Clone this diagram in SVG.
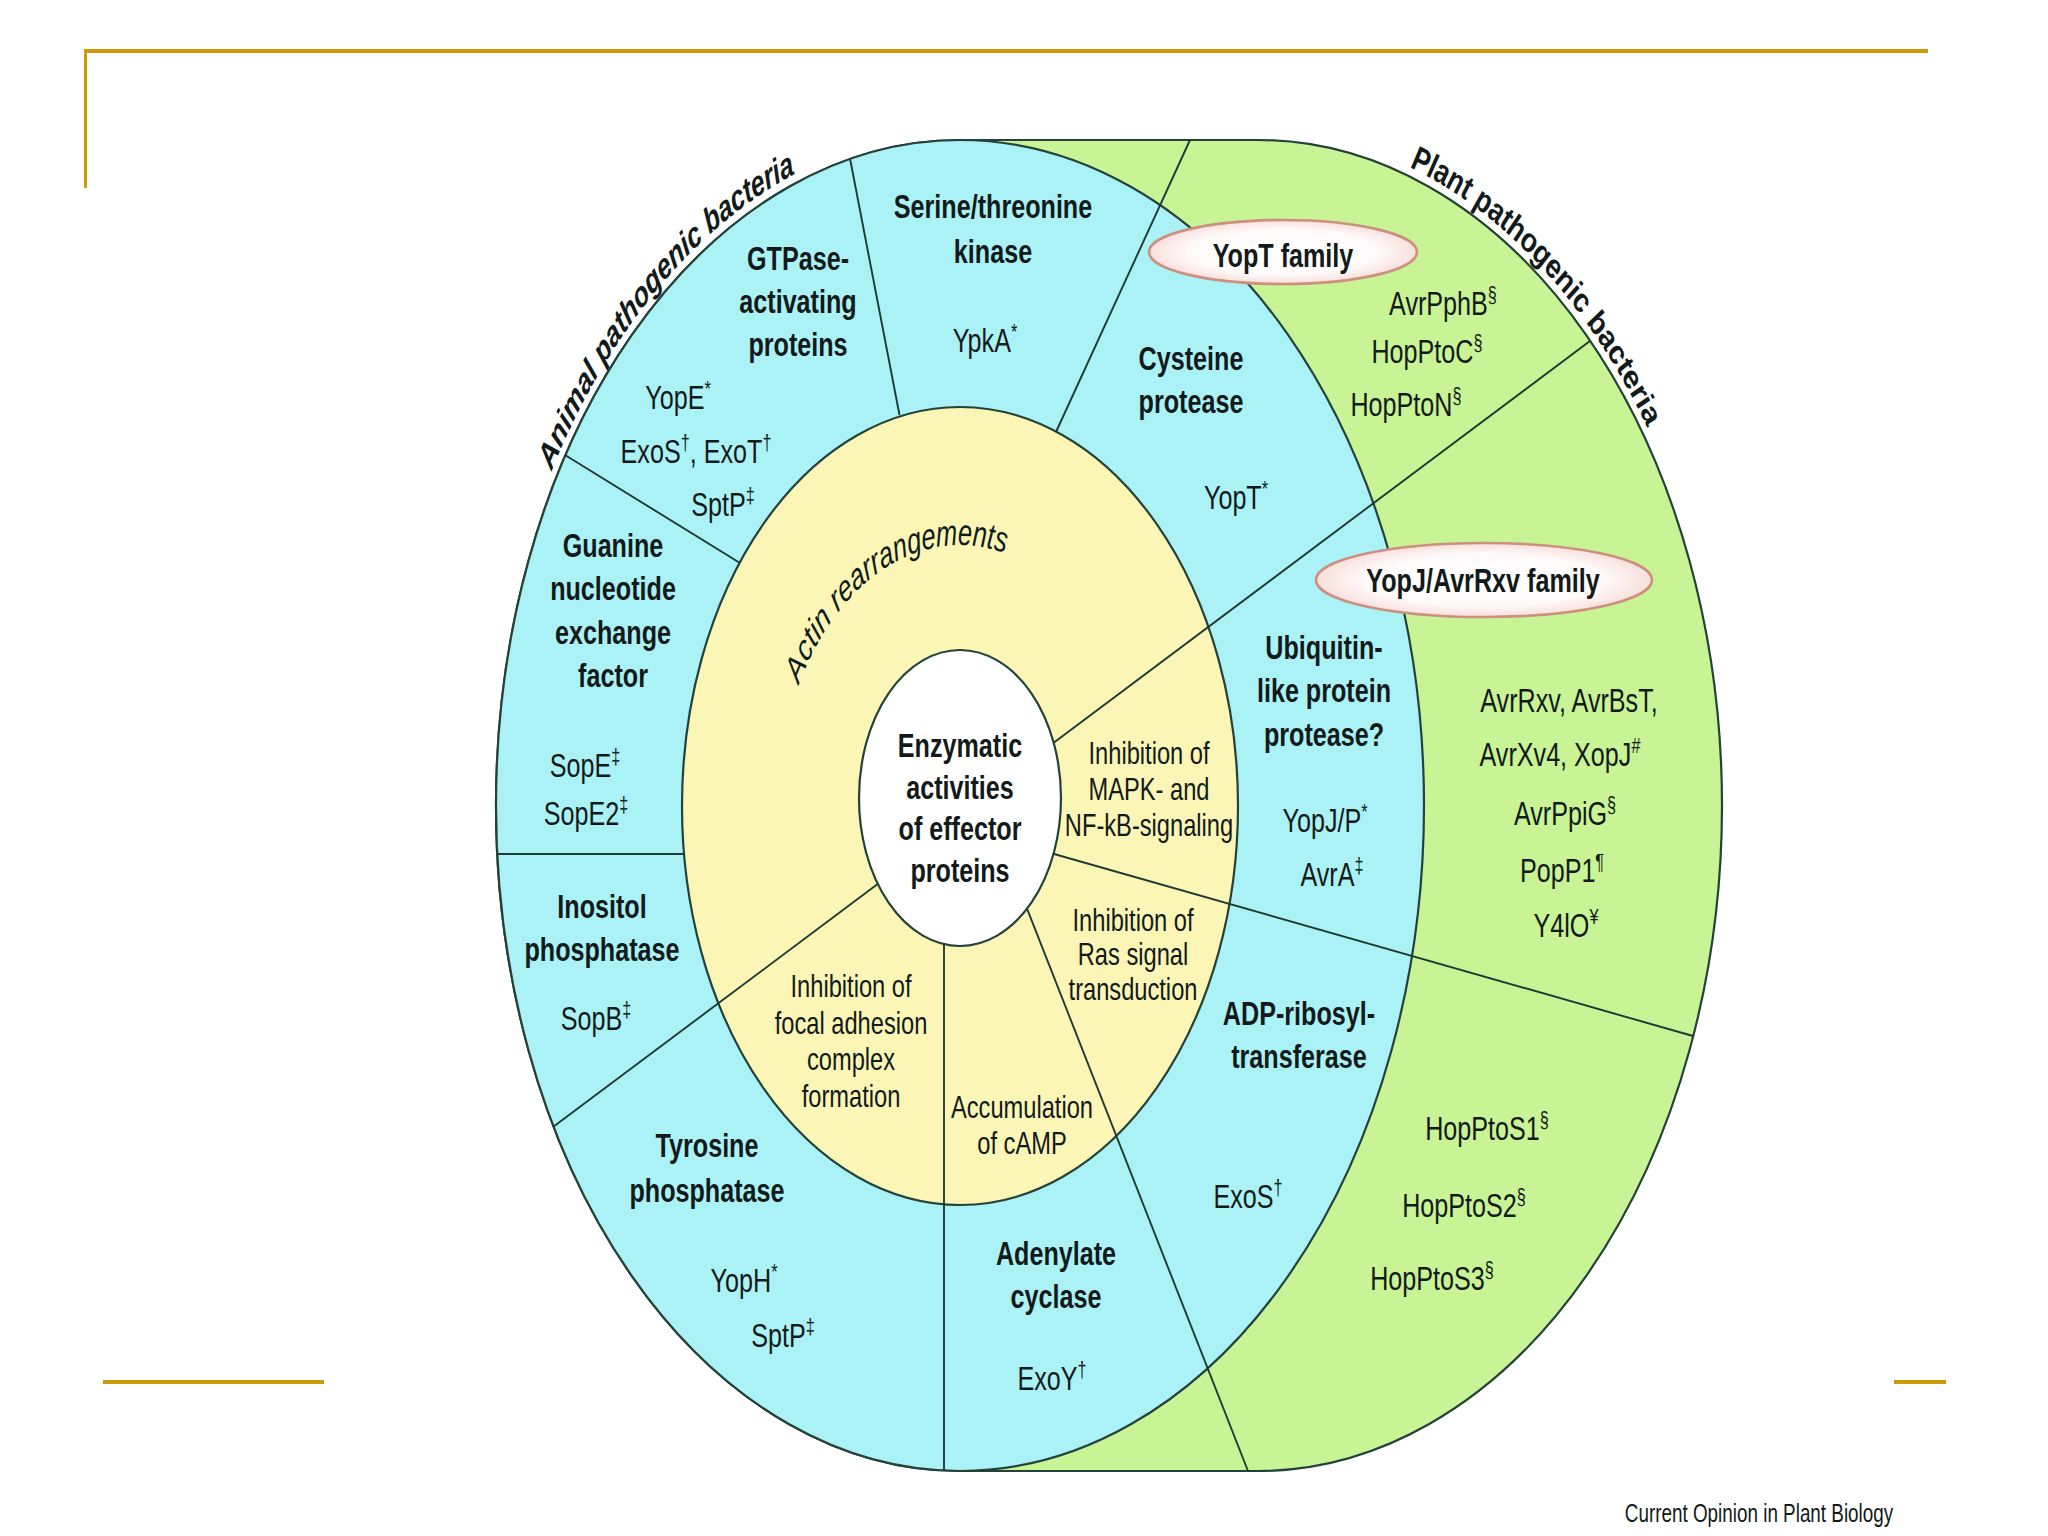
<svg xmlns="http://www.w3.org/2000/svg" width="2048" height="1536" viewBox="0 0 2048 1536">
<style>
.gold{fill:#cc9a0a}
.ring{stroke:#24423a;stroke-width:2.2}
.div{stroke:#1f3a35;stroke-width:1.9;fill:none}
.oval{fill:url(#ovalfill);stroke:#cf8f7e;stroke-width:2.6}
text{font-family:"Liberation Sans",Arial,Helvetica,sans-serif;fill:#121a1a;text-anchor:middle}
.b{font-size:34px;font-weight:bold}
.r{font-size:34px}
.y{font-size:32px}
.s{font-size:22px;baseline-shift:super}
.t{font-size:25px;font-weight:bold;font-style:italic}
.a{font-size:25.5px;font-style:italic}
.c{font-size:25.5px}
</style>
<defs>
<radialGradient id="ovalfill" cx="50%" cy="50%" r="50%">
<stop offset="0" stop-color="#ffffff"/>
<stop offset="0.7" stop-color="#fffafa"/>
<stop offset="1" stop-color="#f8e0dc"/>
</radialGradient>
<path id="pAnimal" d="M517.2,647.8 A470,470 0 0 1 875.2,343.2"/>
<path id="pPlant" d="M1319.3,339.5 A470,470 0 0 1 1692.2,625.6"/>
<path id="pActin" d="M785.1,755.5 A182,182 0 0 1 1040.1,642.6"/>
</defs>
<rect width="2048" height="1536" fill="#ffffff"/>
<g id="frame">
<rect class="gold" x="84" y="49" width="1844" height="4"/>
<rect class="gold" x="84" y="49" width="3" height="139"/>
<rect class="gold" x="103" y="1380" width="221" height="4"/>
<rect class="gold" x="1894" y="1380" width="52" height="4"/>
</g>
<g id="regions">
<path id="plant-band" class="ring" fill="#c8f495" d="M960,140 H1258 A464,665.5 0 0 1 1258,1471 H960 A464,665.5 0 0 1 960,140 Z"/>
<ellipse id="animal-ring" class="ring" fill="#abf2f6" cx="960" cy="805.5" rx="464" ry="665.5"/>
<ellipse id="host-ring" class="ring" fill="#fbf6b6" cx="960" cy="806" rx="278" ry="399"/>
</g>
<g id="dividers">
<line class="div" x1="850" y1="158.5" x2="899.5" y2="415"/>
<line class="div" x1="1056" y1="432" x2="1190" y2="140"/>
<line class="div" x1="565" y1="455" x2="740" y2="563"/>
<line class="div" x1="497" y1="854" x2="684" y2="854"/>
<line class="div" x1="885" y1="878.5" x2="553" y2="1127"/>
<line class="div" x1="944" y1="940" x2="944" y2="1470.6"/>
<line class="div" x1="1015" y1="878" x2="1248" y2="1471"/>
<line class="div" x1="1040" y1="850" x2="1693" y2="1036"/>
<line class="div" x1="1040" y1="753" x2="1590" y2="341"/>
</g>
<g id="n-center">
<ellipse class="ring" fill="#ffffff" cx="960" cy="798" rx="101" ry="148"/>
<text class="b" transform="translate(960 757) scale(.74 1)"><tspan x="0">Enzymatic</tspan><tspan x="0" dy="41.7">activities</tspan><tspan x="0" dy="41.7">of effector</tspan><tspan x="0" dy="41.7">proteins</tspan></text>
</g>
<g id="titles" transform="matrix(1 0 0 1.435 0 -350.4)">
<text id="title-animal" class="t"><textPath href="#pAnimal" startOffset="50%">Animal pathogenic bacteria</textPath></text>
<text id="title-plant" class="t"><textPath href="#pPlant" startOffset="50%">Plant pathogenic bacteria</textPath></text>
<text id="y-actin" class="a"><textPath href="#pActin" startOffset="50%">Actin rearrangements</textPath></text>
</g>
<g id="sec-gtpase">
<text class="b" transform="translate(798 270) scale(.74 1)"><tspan x="0">GTPase-</tspan><tspan x="0" dy="43">activating</tspan><tspan x="0" dy="43">proteins</tspan></text>
<text class="r" transform="translate(678 409) scale(.74 1)">YopE<tspan class="s">*</tspan></text>
<text class="r" transform="translate(696 463) scale(.74 1)">ExoS<tspan class="s">†</tspan>, ExoT<tspan class="s">†</tspan></text>
<text class="r" transform="translate(723 516) scale(.74 1)">SptP<tspan class="s">‡</tspan></text>
</g>
<g id="sec-serine">
<text class="b" transform="translate(993 218) scale(.74 1)"><tspan x="0">Serine/threonine</tspan><tspan x="0" dy="45">kinase</tspan></text>
<text class="r" transform="translate(985 352) scale(.74 1)">YpkA<tspan class="s">*</tspan></text>
</g>
<g id="sec-cysteine">
<text class="b" transform="translate(1191 370) scale(.74 1)"><tspan x="0">Cysteine</tspan><tspan x="0" dy="43">protease</tspan></text>
<text class="r" transform="translate(1236 509) scale(.74 1)">YopT<tspan class="s">*</tspan></text>
</g>
<g id="sec-gef">
<text class="b" transform="translate(613 557) scale(.74 1)"><tspan x="0">Guanine</tspan><tspan x="0" dy="43.5">nucleotide</tspan><tspan x="0" dy="43.5">exchange</tspan><tspan x="0" dy="43.5">factor</tspan></text>
<text class="r" transform="translate(585 777) scale(.74 1)">SopE<tspan class="s">‡</tspan></text>
<text class="r" transform="translate(586 825) scale(.74 1)">SopE2<tspan class="s">‡</tspan></text>
</g>
<g id="sec-inositol">
<text class="b" transform="translate(602 918) scale(.74 1)"><tspan x="0">Inositol</tspan><tspan x="0" dy="43">phosphatase</tspan></text>
<text class="r" transform="translate(596 1030) scale(.74 1)">SopB<tspan class="s">‡</tspan></text>
</g>
<g id="sec-tyrosine">
<text class="b" transform="translate(707 1157) scale(.74 1)"><tspan x="0">Tyrosine</tspan><tspan x="0" dy="45">phosphatase</tspan></text>
<text class="r" transform="translate(744 1292) scale(.74 1)">YopH<tspan class="s">*</tspan></text>
<text class="r" transform="translate(783 1347) scale(.74 1)">SptP<tspan class="s">‡</tspan></text>
</g>
<g id="sec-adenylate">
<text class="b" transform="translate(1056 1265) scale(.74 1)"><tspan x="0">Adenylate</tspan><tspan x="0" dy="43">cyclase</tspan></text>
<text class="r" transform="translate(1052 1390) scale(.74 1)">ExoY<tspan class="s">†</tspan></text>
</g>
<g id="sec-adp">
<text class="b" transform="translate(1299 1025) scale(.74 1)"><tspan x="0">ADP-ribosyl-</tspan><tspan x="0" dy="43">transferase</tspan></text>
<text class="r" transform="translate(1248 1208) scale(.74 1)">ExoS<tspan class="s">†</tspan></text>
</g>
<g id="sec-ubiquitin">
<text class="b" transform="translate(1324 659) scale(.74 1)"><tspan x="0">Ubiquitin-</tspan><tspan x="0" dy="43.5">like protein</tspan><tspan x="0" dy="43.5">protease?</tspan></text>
<text class="r" transform="translate(1325 832) scale(.74 1)">YopJ/P<tspan class="s">*</tspan></text>
<text class="r" transform="translate(1332 886) scale(.74 1)">AvrA<tspan class="s">‡</tspan></text>
</g>
<g id="y-mapk">
<text class="y" transform="translate(1149 764) scale(.74 1)"><tspan x="0">Inhibition of</tspan><tspan x="0" dy="36">MAPK- and</tspan><tspan x="0" dy="36">NF-kB-signaling</tspan></text>
</g>
<g id="y-ras">
<text class="y" transform="translate(1133 931) scale(.74 1)"><tspan x="0">Inhibition of</tspan><tspan x="0" dy="34.5">Ras signal</tspan><tspan x="0" dy="34.5">transduction</tspan></text>
</g>
<g id="y-focal">
<text class="y" transform="translate(851 997) scale(.74 1)"><tspan x="0">Inhibition of</tspan><tspan x="0" dy="36.6">focal adhesion</tspan><tspan x="0" dy="36.6">complex</tspan><tspan x="0" dy="36.6">formation</tspan></text>
</g>
<g id="y-camp">
<text class="y" transform="translate(1022 1118) scale(.74 1)"><tspan x="0">Accumulation</tspan><tspan x="0" dy="36">of cAMP</tspan></text>
</g>
<g id="plant-yopt">
<ellipse class="oval" cx="1283" cy="252" rx="134" ry="32"/>
<text class="b" transform="translate(1283 267) scale(.74 1)">YopT family</text>
<text class="r" transform="translate(1443 315) scale(.74 1)">AvrPphB<tspan class="s">§</tspan></text>
<text class="r" transform="translate(1427 363) scale(.74 1)">HopPtoC<tspan class="s">§</tspan></text>
<text class="r" transform="translate(1406 416) scale(.74 1)">HopPtoN<tspan class="s">§</tspan></text>
</g>
<g id="plant-yopj">
<ellipse class="oval" cx="1484" cy="580" rx="168" ry="37"/>
<text class="b" transform="translate(1483 592) scale(.74 1)">YopJ/AvrRxv family</text>
<text class="r" transform="translate(1569 712) scale(.74 1)">AvrRxv, AvrBsT,</text>
<text class="r" transform="translate(1560 766) scale(.74 1)">AvrXv4, XopJ<tspan class="s">#</tspan></text>
<text class="r" transform="translate(1565 825) scale(.74 1)">AvrPpiG<tspan class="s">§</tspan></text>
<text class="r" transform="translate(1562 882) scale(.74 1)">PopP1<tspan class="s">¶</tspan></text>
<text class="r" transform="translate(1566 937) scale(.74 1)">Y4lO<tspan class="s">¥</tspan></text>
</g>
<g id="plant-adp">
<text class="r" transform="translate(1487 1140) scale(.74 1)">HopPtoS1<tspan class="s">§</tspan></text>
<text class="r" transform="translate(1464 1217) scale(.74 1)">HopPtoS2<tspan class="s">§</tspan></text>
<text class="r" transform="translate(1432 1290) scale(.74 1)">HopPtoS3<tspan class="s">§</tspan></text>
</g>
<g id="credit">
<text class="c" transform="translate(1759 1522) scale(.74 1)">Current Opinion in Plant Biology</text>
</g>
</svg>
